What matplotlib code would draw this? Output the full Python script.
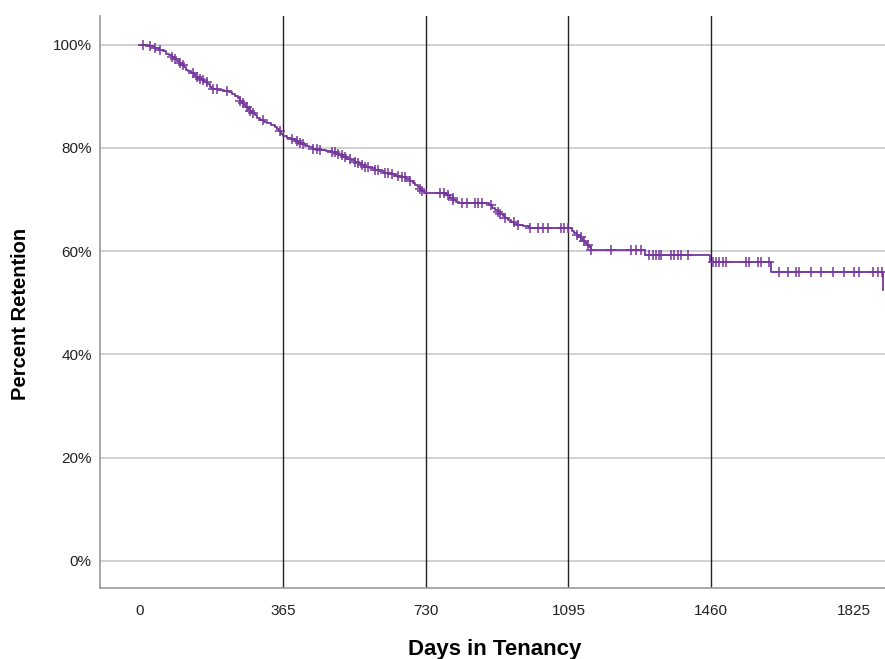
import numpy as np
import matplotlib
matplotlib.use("Agg")
import matplotlib.pyplot as plt

plt.rcParams["font.family"] = ["Liberation Sans", "DejaVu Sans"]

# Kaplan-Meier steps: event day and retention (%) after it
event_days = [0, 20, 35, 48, 58, 66, 75, 82, 88, 94, 100, 106, 112, 118, 124,
              130, 137, 143, 150, 158, 165, 172, 178, 185, 200, 215, 228, 236,
              244, 250, 256, 261, 266, 272, 277, 282, 287, 293, 300, 308, 316,
              326, 336, 344, 350, 355, 360, 366, 376, 386, 396, 405, 413, 422,
              432, 442, 458, 475, 490, 500, 510, 520, 530, 540, 550, 558, 566,
              576, 588, 600, 612, 625, 638, 652, 668, 680, 690, 698, 704, 710,
              716, 722, 727, 783, 792, 800, 808, 815, 893, 900, 907, 914, 920,
              927, 933, 940, 948, 957, 966, 980, 995, 1103, 1110, 1116, 1122,
              1128, 1133, 1138, 1142, 1147, 1152, 1290, 1456, 1612, 1900]
retention = [100, 99.7, 99.4, 99.0, 98.7, 98.3, 98.0, 97.6, 97.2, 96.8, 96.4,
             96.0, 95.6, 95.2, 94.9, 94.5, 94.1, 93.8, 93.4, 93.1, 92.7, 92.3,
             91.9, 91.5, 91.3, 91.1, 90.8, 90.4, 90.0, 89.6, 89.1, 88.7, 88.3,
             87.9, 87.5, 87.1, 86.7, 86.3, 85.9, 85.5, 85.1, 84.8, 84.4, 84.0,
             83.6, 83.2, 82.7, 82.3, 82.0, 81.7, 81.4, 81.0, 80.7, 80.4, 80.1,
             79.8, 79.6, 79.4, 79.2, 78.9, 78.6, 78.3, 77.9, 77.6, 77.3, 77.0,
             76.7, 76.4, 76.1, 75.8, 75.5, 75.2, 74.9, 74.6, 74.3, 74.0, 73.6,
             73.2, 72.8, 72.4, 72.0, 71.6, 71.3, 70.9, 70.4, 70.0, 69.6, 69.3,
             68.9, 68.4, 68.0, 67.6, 67.2, 66.8, 66.4, 66.0, 65.6, 65.3, 65.0,
             64.8, 64.5, 64.0, 63.6, 63.2, 62.8, 62.4, 62.0, 61.6, 61.2, 60.8,
             60.3, 59.3, 58.0, 56.0, 52.5]

# censored observations (days)
censor_days = [8, 26, 38, 51, 82, 90, 102, 110, 136, 146, 154, 161, 171, 187,
               197, 223, 256, 264, 274, 282, 289, 315, 358, 389, 402, 410, 417,
               443, 453, 461, 491, 499, 507, 517, 525, 537, 550, 558, 568, 576,
               584, 601, 609, 627, 635, 645, 660, 670, 678, 691, 717, 722, 768,
               776, 786, 799, 801, 824, 837, 857, 865, 875, 896, 914, 921, 934,
               955, 967, 998, 1016, 1029, 1042, 1075, 1083, 1093, 1118, 1126,
               1134, 1144, 1152, 1203, 1254, 1267, 1280, 1300, 1310, 1318, 1326,
               1331, 1357, 1364, 1374, 1382, 1400, 1464, 1472, 1479, 1490, 1497,
               1548, 1556, 1579, 1587, 1607, 1633, 1656, 1676, 1684, 1715, 1740,
               1771, 1799, 1825, 1838, 1874, 1886, 1897]

x_ticks = [0, 365, 730, 1095, 1460, 1825]
y_ticks = [0, 20, 40, 60, 80, 100]
ref_days = [365, 730, 1095, 1460]

purple = "#76379c"

fig = plt.figure(figsize=(8.85, 6.59), dpi=100)
ax = fig.add_axes([0.113, 0.108, 0.887, 0.868])

for y in y_ticks:
    ax.axhline(y, color="#c8c8c8", lw=1.2, zorder=1)
for d in ref_days:
    ax.axvline(d, color="#222222", lw=1.0, zorder=2)

ax.step(event_days, retention, where="post", color=purple, lw=1.3, zorder=3)

ev = np.array(event_days)
rt = np.array(retention)
cd = np.array(censor_days)
idx = np.searchsorted(ev, cd, side="right") - 1
ax.plot(cd, rt[idx], linestyle="none", marker="+", color=purple,
        markersize=7, mew=1.3, alpha=0.85, zorder=4)

ax.set_xlim(-102, 1904)
ax.set_ylim(-5.2, 105.6)
ax.set_xticks(x_ticks)
ax.set_xticklabels([str(t) for t in x_ticks])
ax.set_yticks(y_ticks)
ax.set_yticklabels([f"{t}%" for t in y_ticks])
ax.tick_params(axis="both", length=0, labelsize=11, colors="#222222")
ax.tick_params(axis="x", pad=12)
ax.tick_params(axis="y", pad=6)

for s in ["top", "right"]:
    ax.spines[s].set_visible(False)
for s in ["left", "bottom"]:
    ax.spines[s].set_color("#999999")
    ax.spines[s].set_linewidth(1.2)

ax.set_xlabel("Days in Tenancy", fontsize=16, fontweight="bold")
ax.set_ylabel("Percent Retention", fontsize=14.5, fontweight="bold")
ax.xaxis.set_label_coords(0.503, -0.089)
ax.yaxis.set_label_coords(-0.089, 0.479)

fig.savefig("out.png", dpi=100)
